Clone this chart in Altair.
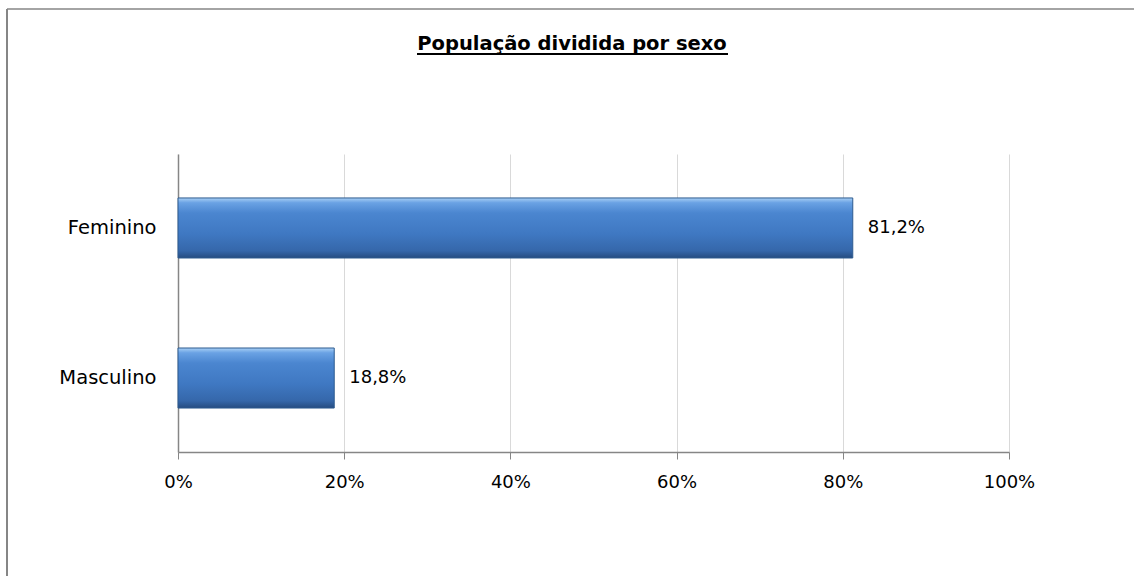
import altair as alt
import pandas as pd

categories = ["Feminino", "Masculino"]
values = [81.2, 18.8]
x_ticks = [0, 20, 40, 60, 80, 100]
title_text = "População dividida por sexo"

labels = [f"{v:.1f}%".replace(".", ",") for v in values]
df = pd.DataFrame({"sexo": categories, "pct": values, "label": labels})

W, H = 831, 298
LEFT, TOP = 178, 154
FONT = "DejaVu Sans"

y_enc = alt.Y(
    "sexo:N",
    sort=categories,
    scale=alt.Scale(paddingInner=0.6, paddingOuter=0.293),
    axis=alt.Axis(
        title=None, ticks=False, labelPadding=22, labelFontSize=19.5,
        labelFont=FONT, labelColor="#000000", domainColor="#868686",
        domainWidth=1.5, grid=False,
    ),
)
x_enc = alt.X(
    "pct:Q",
    scale=alt.Scale(domain=[0, 100], nice=False),
    axis=alt.Axis(
        title=None, values=x_ticks, labelExpr="datum.value + '%'",
        tickSize=7, tickColor="#868686", domainColor="#868686",
        domainWidth=1.5, gridColor="#d9d9d9", gridWidth=1,
        labelFontSize=18, labelFont=FONT, labelColor="#000000",
        labelPadding=14, labelFlush=False,
    ),
)

grad = alt.Gradient(
    gradient="linear", x1=0, y1=0, x2=0, y2=1,
    stops=[
        alt.GradientStop(color="#a9d0f5", offset=0.0),
        alt.GradientStop(color="#6aa2e4", offset=0.08),
        alt.GradientStop(color="#4b86d0", offset=0.25),
        alt.GradientStop(color="#3f78c2", offset=0.6),
        alt.GradientStop(color="#3567aa", offset=0.88),
        alt.GradientStop(color="#264c80", offset=1.0),
    ],
)

bars = alt.Chart(df).mark_bar(color=grad, stroke="#2d5a8f", strokeWidth=1).encode(
    y=y_enc, x=x_enc
)
text = alt.Chart(df).mark_text(
    align="left", baseline="middle", dx=15, fontSize=18, font=FONT, color="#000000"
).encode(y=alt.Y("sexo:N", sort=categories), x="pct:Q", text="label:N")

title_mark = alt.Chart(pd.DataFrame({"t": [title_text]})).mark_text(
    align="center", baseline="alphabetic", fontSize=19.5, fontWeight="bold",
    font=FONT, color="#000000"
).encode(x=alt.value(572 - LEFT), y=alt.value(50 - TOP), text="t:N")

underline = alt.Chart(pd.DataFrame({"a": [0]})).mark_rule(
    color="#000000", strokeWidth=2
).encode(x=alt.value(417 - LEFT), x2=alt.value(728 - LEFT), y=alt.value(54 - TOP))

border_top = alt.Chart(pd.DataFrame({"a": [0]})).mark_rule(
    color="#868686", strokeWidth=1.5
).encode(x=alt.value(7 - LEFT), x2=alt.value(1200 - LEFT), y=alt.value(9 - TOP))
border_left = alt.Chart(pd.DataFrame({"a": [0]})).mark_rule(
    color="#868686", strokeWidth=2
).encode(x=alt.value(7 - LEFT), y=alt.value(9 - TOP), y2=alt.value(700 - TOP))

chart = alt.layer(bars, text, title_mark, underline, border_top, border_left).properties(
    width=W, height=H,
    padding={"left": LEFT, "top": TOP, "right": 1134 - LEFT - W, "bottom": 576 - TOP - H},
    autosize=alt.AutoSizeParams(type="none"),
    background="#ffffff",
).configure_view(stroke=None)

chart.save("out.html", embed_options={"renderer": "svg", "actions": False})
